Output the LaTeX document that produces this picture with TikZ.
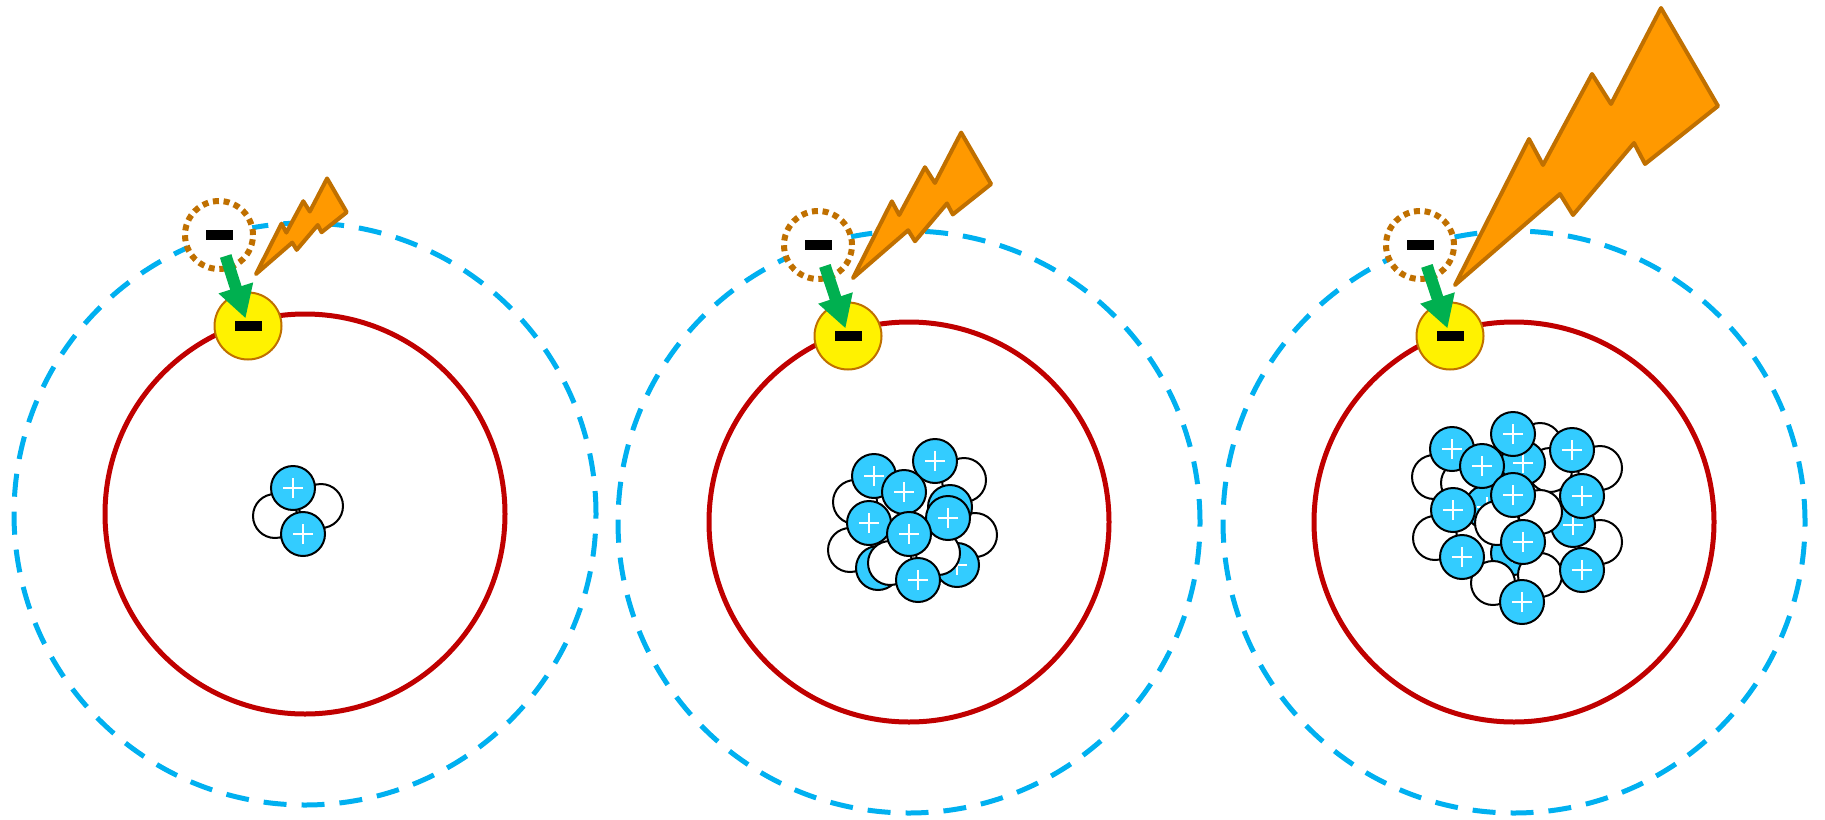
\documentclass[tikz,border=0pt]{standalone}
\usetikzlibrary{arrows.meta}

\definecolor{orbitblue}{HTML}{00B0F0}
\definecolor{shellred}{HTML}{C00000}
\definecolor{protoncyan}{HTML}{33CCFF}
\definecolor{arrowgreen}{HTML}{00B050}
\definecolor{boltorange}{HTML}{FF9900}
\definecolor{boltedge}{HTML}{C07000}

\tikzset{
  outershell/.style={draw=orbitblue, line width=5pt, dash pattern=on 23pt off 15pt},
  innershell/.style={draw=shellred, line width=5pt},
  neutron/.style={circle, draw=black, fill=white, line width=2pt,
    minimum size=44pt, inner sep=0pt},
  proton/.style={neutron, fill=protoncyan,
    path picture={\draw[white, line width=1.8pt]
      ([xshift=-10pt]path picture bounding box.center) -- ([xshift=10pt]path picture bounding box.center)
      ([yshift=-10pt]path picture bounding box.center) -- ([yshift=10pt]path picture bounding box.center);}},
  ghost/.style={circle, draw=boltedge, fill=white, line width=6pt,
    dash pattern=on 6pt off 4.7pt, minimum size=68pt, inner sep=0pt},
  electron/.style={circle, draw=boltedge, fill=yellow, line width=2pt,
    minimum size=67pt, inner sep=0pt},
  capture/.style={draw=arrowgreen, line width=12pt,
    -{Triangle[length=32pt, width=34pt]}, shorten <=22pt, shorten >=8pt},
  pics/bolt/.style={code={
    \draw[boltedge, fill=boltorange, line width=4pt, line join=round]
      (0,0) -- (74,-146) -- (88,-120) -- (137,-211) -- (156,-181) -- (206,-277)
      -- (263,-179) -- (190,-121) -- (179,-142) -- (118,-70) -- (105,-91) -- cycle;}}
}

\newcommand{\minusbar}{\rule{27pt}{10pt}}

\begin{document}
\begin{tikzpicture}[x=1pt, y=-1pt]
\useasboundingbox (0,0) rectangle (1825,819);

% ---------- atom 1 ----------
\draw[outershell] (305,514) circle[radius=291pt];
\draw[innershell] (305,514) circle[radius=200pt];
\foreach \p [count=\i] in {(275,516),(321,506)}
  \node[neutron] (a1n\i) at \p {};
\foreach \p [count=\i] in {(293,488),(303,534)}
  \node[proton] (a1p\i) at \p {};
\node[ghost] (a1g) at (219,235) {\minusbar};
\node[electron] (a1e) at (248,326) {\minusbar};
\pic[scale=0.345] (a1b) at (256,274) {bolt};
\draw[capture] (a1g.center) -- (a1e.center);

% ---------- atom 2 ----------
\draw[outershell] (909,522) circle[radius=291pt];
\draw[innershell] (909,522) circle[radius=200pt];
\foreach \p [count=\i] in {(855,502),(964,480),(850,550),(975,535)}
  \node[neutron] (a2n\i) at \p {};
\foreach \p [count=\i] in {(950,507),(878,568),(957,565)}
  \node[proton] (a2h\i) at \p {};
\foreach \p [count=\i] in {(890,563),(938,553)}
  \node[neutron] (a2m\i) at \p {};
\foreach \p [count=\i] in {(874,476),(935,461),(904,492),(869,523),(948,518),(909,534),(918,580)}
  \node[proton] (a2p\i) at \p {};
\node[ghost] (a2g) at (818,245) {\minusbar};
\node[electron] (a2e) at (848,336) {\minusbar};
\pic[scale=0.525] (a2b) at (853,278) {bolt};
\draw[capture] (a2g.center) -- (a2e.center);

% ---------- atom 3 ----------
\draw[outershell] (1514,522) circle[radius=291pt];
\draw[innershell] (1514,522) circle[radius=200pt];
\foreach \p [count=\i] in {(1434,477),(1600,468),(1435,538),(1600,542),(1540,445),(1463,483),(1550,470)}
  \node[neutron] (a3n\i) at \p {};
\foreach \p [count=\i] in {(1523,463),(1487,507),(1513,553),(1573,525)}
  \node[proton] (a3h\i) at \p {};
\foreach \p [count=\i] in {(1497,523),(1540,512),(1493,583),(1540,575)}
  \node[neutron] (a3m\i) at \p {};
\foreach \p [count=\i] in {(1452,449),(1513,434),(1572,450),(1482,466),(1513,495),(1582,496),
    (1453,510),(1523,542),(1462,557),(1582,570),(1522,602)}
  \node[proton] (a3p\i) at \p {};
\node[ghost] (a3g) at (1420,245) {\minusbar};
\node[electron] (a3e) at (1450,336) {\minusbar};
\pic (a3b) at (1455,285) {bolt};
\draw[capture] (a3g.center) -- (a3e.center);

\end{tikzpicture}
\end{document}
